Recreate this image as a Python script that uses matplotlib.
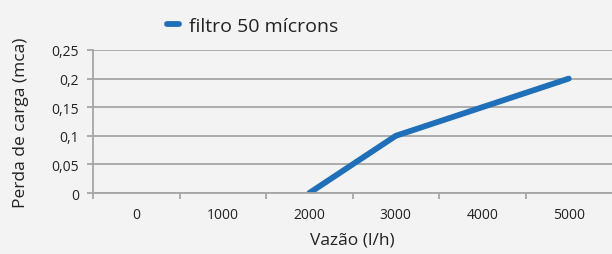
import matplotlib.pyplot as plt
from matplotlib.ticker import FixedLocator, NullFormatter
import numpy as np

# Chart data
vazao = ['0', '1000', '2000', '3000', '4000', '5000']
perda = [np.nan, np.nan, 0.0, 0.1, 0.15, 0.2]
y_ticks = [0, 0.05, 0.1, 0.15, 0.2, 0.25]
y_labels = ['0', '0,05', '0,1', '0,15', '0,2', '0,25']

BG = '#f3f3f3'
GRID = '#a6a6a6'
BLUE = '#1f70b8'
TXT = '#222222'

plt.rcParams['font.family'] = ['Open Sans', 'DejaVu Sans']

fig = plt.figure(figsize=(6.12, 2.55), dpi=100, facecolor=BG)
ax = fig.add_axes([0.152, 0.239, 0.848, 0.561])
ax.set_facecolor(BG)

x = np.arange(len(vazao))
line, = ax.plot(x, perda, color=BLUE, linewidth=4.2, solid_capstyle='round',
                label='filtro 50 mícrons')

ax.set_xlim(-0.5, len(vazao) - 0.5)
ax.set_ylim(0, 0.25)

# y axis
ax.set_yticks(y_ticks)
ax.set_yticklabels(y_labels)
ax.yaxis.grid(True, color=GRID, linewidth=1.3)
ax.set_axisbelow(True)

# x axis: ticks at category borders, labels at centers
ax.xaxis.set_major_locator(FixedLocator(np.arange(-0.5, len(vazao) - 0.5, 1.0)))
ax.xaxis.set_major_formatter(NullFormatter())
ax.xaxis.set_minor_locator(FixedLocator(x))
ax.set_xticklabels(vazao, minor=True)
ax.tick_params(axis='x', which='minor', length=0, pad=10, labelsize=10, colors=TXT)
ax.tick_params(axis='x', which='major', length=4, width=1.3, color=GRID)
ax.tick_params(axis='y', length=4, width=1.3, color=GRID, labelsize=10,
               labelcolor=TXT, pad=6)

for side in ['top', 'right']:
    ax.spines[side].set_visible(False)
for side in ['left', 'bottom']:
    ax.spines[side].set_color(GRID)
    ax.spines[side].set_linewidth(1.3)

ax.set_xlabel('Vazão (l/h)', fontsize=12.5, color=TXT, labelpad=7)
ax.set_ylabel('Perda de carga (mca)', fontsize=12.5, color=TXT, labelpad=16)

fig.legend(handles=[line], loc='center', bbox_to_anchor=(0.413, 0.895),
           frameon=False, fontsize=14, handlelength=0.6, handletextpad=0.5,
           labelcolor=TXT)

fig.savefig('out.png', dpi=100, facecolor=BG)
